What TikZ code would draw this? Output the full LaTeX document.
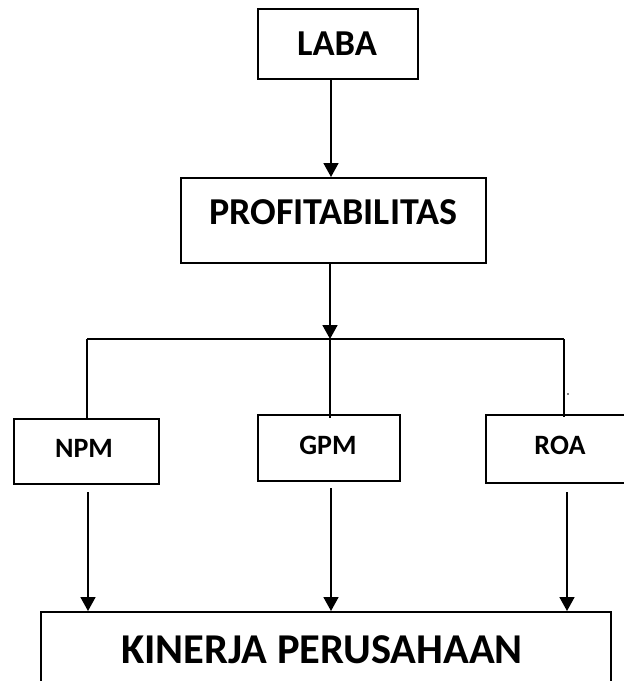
\documentclass[tikz,border=0pt]{standalone}
\usepackage{fontspec}
\setmainfont{Carlito}
\usetikzlibrary{arrows.meta}
\begin{document}
\begin{tikzpicture}[x=1pt,y=-1pt,
  box/.style={draw, line width=1.5pt, inner sep=0pt, anchor=north west},
  lbl/.style={font=\bfseries, inner sep=0pt},
  conn/.style={line width=1.7pt},
  arr/.style={line width=1.7pt, -{Triangle[width=15pt,length=14pt]}}]
\useasboundingbox (0,0) rectangle (624,681);
% boxes
\node[box, minimum width=160pt, minimum height=70pt] (laba) at (257,8) {};
\node[lbl, font=\bfseries\fontsize{36.5}{40}\selectfont] (labat) at (337,43.5) {LABA};
\node[box, minimum width=305pt, minimum height=85pt] (prof) at (180,177) {};
\node[lbl, font=\bfseries\fontsize{38}{42}\selectfont] (proft) at (333,212) {PROFITABILITAS};
\node[box, minimum width=145pt, minimum height=65pt] (npm) at (13,418) {};
\node[lbl, font=\bfseries\fontsize{28}{32}\selectfont] (npmt) at (84,448) {NPM};
\node[box, minimum width=142pt, minimum height=66pt] (gpm) at (257,414) {};
\node[lbl, font=\bfseries\fontsize{28}{32}\selectfont] (gpmt) at (328,445) {GPM};
\node[box, minimum width=140pt, minimum height=68pt] (roa) at (485,414) {};
\node[lbl, font=\bfseries\fontsize{28}{32}\selectfont] (roat) at (560,445) {ROA};
\node[box, minimum width=570pt, minimum height=100pt] (kin) at (40,611) {};
\node[lbl, font=\bfseries\fontsize{42.5}{46}\selectfont] (kint) at (322,649.5) {KINERJA PERUSAHAAN};
% junctions
\coordinate (ja) at (331,80);
\coordinate (jt) at (330,339);
\coordinate (jl) at (87,339);
\coordinate (jr) at (564,339);
\coordinate (na) at (88,492);
\coordinate (ga) at (331,488);
\coordinate (ra) at (567,492);
% connectors
\draw[arr] (ja) -- (ja |- prof.north);
\draw[arr] (prof.south -| jt) -- (jt);
\draw[conn] (jl) -- (jr);
\draw[conn] (jl) -- (jl |- npm.north);
\draw[conn] (jt) -- ([yshift=-4pt]jt |- gpm.north);
\draw[conn] (jr) -- ([yshift=-3pt]jr |- roa.north);
\draw[arr] (na) -- (na |- kin.north);
\draw[arr] (ga) -- (ga |- kin.north);
\draw[arr] (ra) -- (ra |- kin.north);
\fill (568,394) circle (0.8pt);
\end{tikzpicture}
\end{document}
